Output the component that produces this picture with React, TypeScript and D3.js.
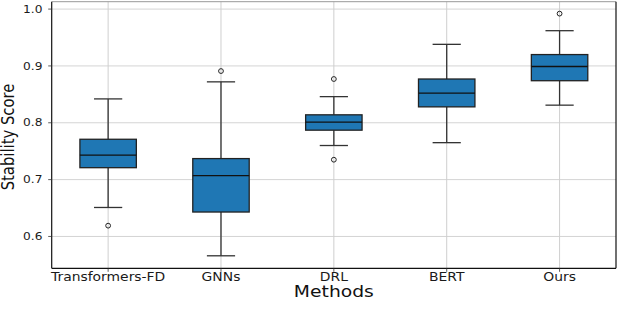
import React from "react";
import * as d3 from "d3";

const categories = ["Transformers-FD", "GNNs", "DRL", "BERT", "Ours"];
const whiskerLow = [0.651, 0.566, 0.76, 0.765, 0.831];
const q1 = [0.721, 0.643, 0.787, 0.828, 0.874];
const medians = [0.743, 0.707, 0.801, 0.852, 0.899];
const q3 = [0.771, 0.737, 0.814, 0.877, 0.92];
const whiskerHigh = [0.842, 0.872, 0.846, 0.938, 0.962];
const outliers: number[][] = [[0.619], [0.891], [0.877, 0.735], [], [0.992]];
const yTicks = [0.6, 0.7, 0.8, 0.9, 1.0];

const W = 618;
const H = 332;
const SX = 1.22;
const FONT = "'DejaVu Sans', sans-serif";

export default function App() {
  const left = 51.7, right = 616, top = 1.7, bottom = 268.3;
  const x = d3.scaleLinear().domain([0.5, 5.5]).range([left, right]);
  const y = d3.scaleLinear().domain([0.544, 1.013]).range([bottom, top]);
  const step = x(2) - x(1);
  const boxW = step * 0.5;
  const capW = step * 0.25;
  const edge = "#222";

  return (
    <svg width={W} height={H} style={{ position: "absolute", left: 0, top: 0, background: "#fff" }}>
      <rect x={0} y={0} width={W} height={H} fill="#fff" />
      {yTicks.map((t) => (
        <line key={"gy" + t} x1={left} x2={right} y1={y(t)} y2={y(t)} stroke="#d4d4d4" strokeWidth={1} />
      ))}
      {categories.map((c, i) => (
        <line key={"gx" + c} x1={x(i + 1)} x2={x(i + 1)} y1={top} y2={bottom} stroke="#cfcfcf" strokeWidth={1} />
      ))}
      {categories.map((c, i) => {
        const cx = x(i + 1);
        return (
          <g key={c}>
            <line x1={cx} x2={cx} y1={y(q3[i])} y2={y(whiskerHigh[i])} stroke="#333" strokeWidth={1.3} />
            <line x1={cx} x2={cx} y1={y(q1[i])} y2={y(whiskerLow[i])} stroke="#333" strokeWidth={1.3} />
            <line x1={cx - capW / 2} x2={cx + capW / 2} y1={y(whiskerHigh[i])} y2={y(whiskerHigh[i])} stroke="#333" strokeWidth={1.3} />
            <line x1={cx - capW / 2} x2={cx + capW / 2} y1={y(whiskerLow[i])} y2={y(whiskerLow[i])} stroke="#333" strokeWidth={1.3} />
            <rect
              x={cx - boxW / 2}
              y={y(q3[i])}
              width={boxW}
              height={y(q1[i]) - y(q3[i])}
              fill="#1f77b4"
              stroke={edge}
              strokeWidth={1.3}
            />
            <line x1={cx - boxW / 2} x2={cx + boxW / 2} y1={y(medians[i])} y2={y(medians[i])} stroke="#111" strokeWidth={1.3} />
            {outliers[i].map((o, j) => (
              <circle key={j} cx={cx} cy={y(o)} r={2.4} fill="none" stroke="#222" strokeWidth={1} />
            ))}
          </g>
        );
      })}
      <line x1={left} x2={right} y1={top} y2={top} stroke="#999" strokeWidth={1} />
      <line x1={left} x2={left} y1={top} y2={bottom} stroke="#111" strokeWidth={1.2} />
      <line x1={right} x2={right} y1={top} y2={bottom} stroke="#111" strokeWidth={1.2} />
      <line x1={left} x2={right} y1={bottom} y2={bottom} stroke="#111" strokeWidth={1.2} />
      {yTicks.map((t) => (
        <g key={"yt" + t}>
          <line x1={left - 3.5} x2={left} y1={y(t)} y2={y(t)} stroke="#333" strokeWidth={0.8} />
          <text
            transform={`translate(${42.5},${y(t) + 3.6}) scale(${SX},1)`}
            textAnchor="end"
            fontFamily={FONT}
            fontSize={10}
            fill="#1a1a1a"
          >
            {d3.format(".1f")(t)}
          </text>
        </g>
      ))}
      {categories.map((c, i) => (
        <g key={"xt" + c}>
          <line x1={x(i + 1)} x2={x(i + 1)} y1={bottom} y2={bottom + 3.5} stroke="#333" strokeWidth={0.8} />
          <text
            transform={`translate(${x(i + 1)},${281}) scale(${SX},1)`}
            textAnchor="middle"
            fontFamily={FONT}
            fontSize={11.4}
            fill="#1a1a1a"
          >
            {c}
          </text>
        </g>
      ))}
      <text
        transform={`translate(${(left + right) / 2},${297.3}) scale(1.25,1)`}
        textAnchor="middle"
        fontFamily={FONT}
        fontSize={15}
        fill="#111"
      >
        Methods
      </text>
      <text
        transform={`translate(${13.5},${(top + bottom) / 2 + 2}) scale(1.25,1) rotate(-90)`}
        textAnchor="middle"
        fontFamily={FONT}
        fontSize={14.8}
        fill="#111"
      >
        Stability Score
      </text>
      <text
        transform={`translate(${309},${345.5}) scale(1.15,1)`}
        textAnchor="middle"
        fontFamily="'Liberation Serif', serif"
        fontSize={20}
        fill="#555"
      >
        Fig. 3: System Stability Comparison
      </text>
    </svg>
  );
}
